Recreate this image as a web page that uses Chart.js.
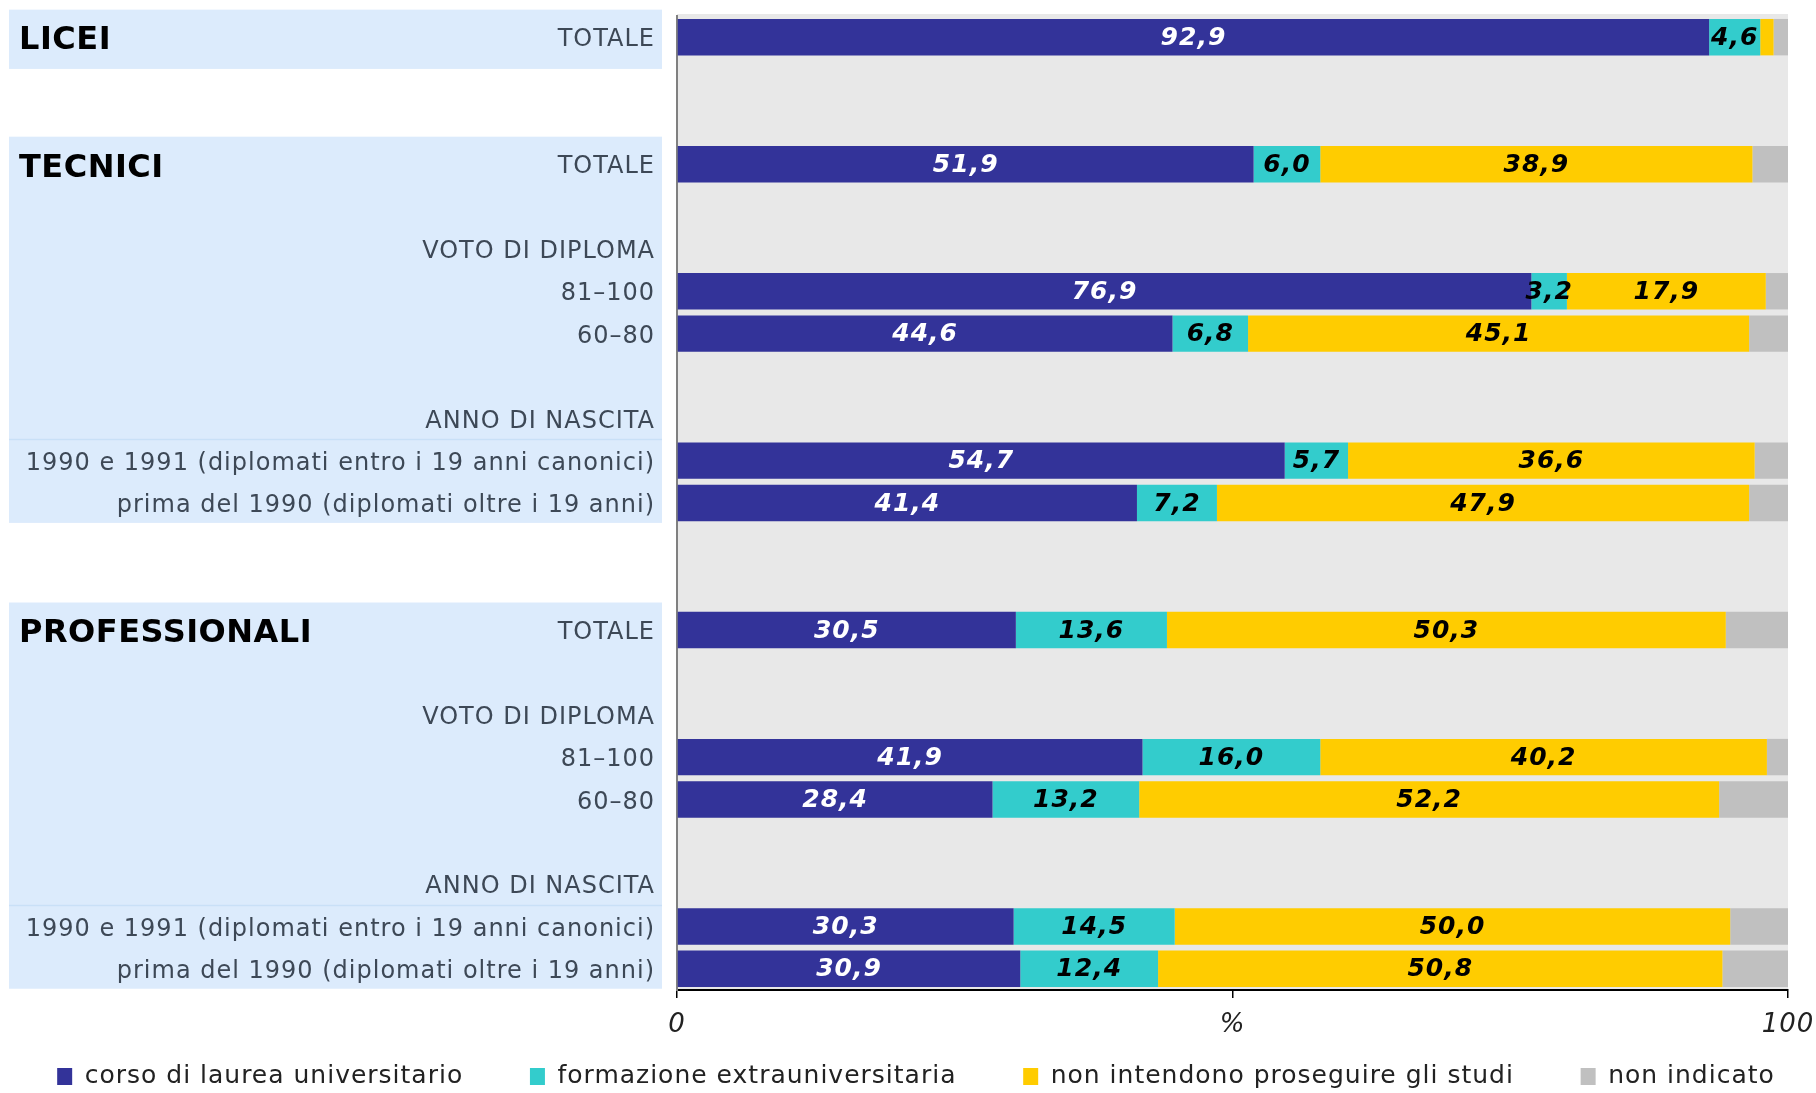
<!DOCTYPE html>
<html lang="it">
<head>
<meta charset="utf-8">
<title>Scelte dopo il diploma</title>
<script src="https://cdn.jsdelivr.net/npm/chart.js@4/dist/chart.umd.min.js"></script>
<style>
  html, body { margin: 0; padding: 0; background: #fff; }
  #wrap { width: 1816px; height: 1093px; }
</style>
</head>
<body>
<div id="wrap"><canvas id="chart" width="1816" height="1093"></canvas></div>
<script>
// righe del grafico (le righe vuote fanno da spazio tra i gruppi)
const rowLabels = [
  'TOTALE', '', '',
  'TOTALE', '', 'VOTO DI DIPLOMA', '81–100', '60–80', '',
  'ANNO DI NASCITA', '1990 e 1991 (diplomati entro i 19 anni canonici)', 'prima del 1990 (diplomati oltre i 19 anni)',
  '', '',
  'TOTALE', '', 'VOTO DI DIPLOMA', '81–100', '60–80', '',
  'ANNO DI NASCITA', '1990 e 1991 (diplomati entro i 19 anni canonici)', 'prima del 1990 (diplomati oltre i 19 anni)'
];

// gruppi: titolo, prima e ultima riga
const groupTitles = ['LICEI', 'TECNICI', 'PROFESSIONALI'];
const groupRows = [[0, 0], [3, 11], [14, 22]];
const subHeaderRows = [9, 20];

const seriesNames = [
  'corso di laurea universitario',
  'formazione extrauniversitaria',
  'non intendono proseguire gli studi',
  'non indicato'
];

const universitario = [92.9, null, null, 51.9, null, null, 76.9, 44.6, null, null, 54.7, 41.4, null, null, 30.5, null, null, 41.9, 28.4, null, null, 30.3, 30.9];
const extrauniv     = [4.6, null, null, 6.0, null, null, 3.2, 6.8, null, null, 5.7, 7.2, null, null, 13.6, null, null, 16.0, 13.2, null, null, 14.5, 12.4];
const nonProseguono = [1.2, null, null, 38.9, null, null, 17.9, 45.1, null, null, 36.6, 47.9, null, null, 50.3, null, null, 40.2, 52.2, null, null, 50.0, 50.8];
const nonIndicato   = [1.3, null, null, 3.2, null, null, 2.0, 3.5, null, null, 3.0, 3.5, null, null, 5.6, null, null, 1.9, 6.2, null, null, 5.2, 5.9];

const xTickLabels = ['0', '%', '100'];

const colors = ['#333399', '#33cccc', '#ffcc00', '#c0c0c0'];
const labelColors = ['#ffffff', '#000000', '#000000', null];

const FONT = '"DejaVu Sans", Verdana, sans-serif';
Chart.defaults.font.family = FONT;

function fmt(v) {
  return v.toFixed(1).replace('.', ',');
}

// niente margini automatici per le etichette degli assi
function noScalePadding(s) {
  s.paddingTop = 0;
  s.paddingBottom = 0;
  s.paddingLeft = 0;
  s.paddingRight = 0;
}

// sfondo area, riquadri azzurri e titoli dei gruppi
const panelPlugin = {
  id: 'panels',
  beforeUpdate(chart) { chart.ctx.letterSpacing = '1px'; },
  afterLayout(chart) {
    // la legenda nell'originale è un po' spostata a destra
    chart.legend.left += 22;
    chart.legend.right += 22;
  },
  beforeDraw(chart) {
    const { ctx, chartArea: a } = chart;
    const y = chart.scales.y;
    ctx.letterSpacing = '1px';
    ctx.save();
    ctx.fillStyle = '#e8e8e8';
    ctx.fillRect(a.left, a.top - 2, a.right - a.left, a.bottom - a.top + 2);

    groupRows.forEach(r => {
      const top = y.getPixelForValue(r[0] - 0.65);
      const bottom = y.getPixelForValue(Math.max(r[1] + 0.47, r[0] + 0.75));
      ctx.fillStyle = '#dcebfc';
      ctx.fillRect(9, top, 653, bottom - top);
    });

    ctx.strokeStyle = '#c9e0f7';
    ctx.lineWidth = 1.5;
    subHeaderRows.forEach(r => {
      const py = Math.round(y.getPixelForValue(r + 0.5)) + 0.5;
      ctx.beginPath();
      ctx.moveTo(9, py);
      ctx.lineTo(662, py);
      ctx.stroke();
    });

    ctx.fillStyle = '#000';
    ctx.font = 'bold 32px ' + FONT;
    ctx.letterSpacing = '0.5px';
    ctx.textAlign = 'left';
    ctx.textBaseline = 'middle';
    groupRows.forEach((r, i) => {
      ctx.fillText(groupTitles[i], 19, y.getPixelForValue(r[0]) + 4);
    });
    ctx.restore();
  }
};

// valori dentro le barre
const valuePlugin = {
  id: 'values',
  afterDatasetsDraw(chart) {
    const ctx = chart.ctx;
    ctx.save();
    ctx.font = 'italic bold 25px ' + FONT;
    ctx.textAlign = 'center';
    ctx.textBaseline = 'middle';
    chart.data.datasets.forEach((ds, di) => {
      if (!labelColors[di]) return;
      ctx.fillStyle = labelColors[di];
      chart.getDatasetMeta(di).data.forEach((el, i) => {
        const v = ds.data[i];
        if (v == null || v < 2) return;
        const p = el.getProps(['x', 'base', 'y'], true);
        ctx.fillText(fmt(v), (p.x + p.base) / 2, p.y + 1);
      });
    });
    ctx.restore();
  }
};

// legenda: spazio extra dopo ogni voce tranne l'ultima
const defaultLegendLabels = Chart.defaults.plugins.legend.labels.generateLabels;
function legendLabels(chart) {
  const items = defaultLegendLabels(chart);
  items.forEach((it, i) => {
    it.lineWidth = 0;
    if (i < items.length - 1) it.text = it.text + '     ';
  });
  return items;
}

const seriesData = [universitario, extrauniv, nonProseguono, nonIndicato];

new Chart(document.getElementById('chart'), {
  type: 'bar',
  data: {
    labels: rowLabels,
    datasets: seriesData.map((d, i) => ({
      label: seriesNames[i],
      data: d,
      backgroundColor: colors[i],
      borderWidth: 0,
      barPercentage: 0.86,
      categoryPercentage: 1
    }))
  },
  options: {
    responsive: false,
    animation: false,
    indexAxis: 'y',
    layout: { autoPadding: false, padding: { top: 16, right: 28, left: 0, bottom: -6 } },
    scales: {
      x: {
        stacked: true,
        min: 0,
        max: 100,
        ticks: {
          stepSize: 50,
          maxRotation: 0,
          padding: 12,
          color: '#222',
          font: { size: 26, style: 'italic' },
          callback: (v, i) => xTickLabels[i]
        },
        grid: { drawOnChartArea: false, drawTicks: true, tickLength: 8, color: '#000', lineWidth: 1.5 },
        border: { color: '#000', width: 2 },
        afterFit: s => { s.height = 52; noScalePadding(s); }
      },
      y: {
        stacked: true,
        ticks: { autoSkip: false, padding: 22, labelOffset: 3, color: '#3d4856', font: { size: 24 } },
        grid: { display: false, drawTicks: false },
        border: { color: '#808080', width: 2 },
        afterFit: s => { s.width = 677; noScalePadding(s); }
      }
    },
    plugins: {
      legend: {
        position: 'bottom',
        labels: {
          boxWidth: 15,
          boxHeight: 17,
          padding: 22,
          color: '#222',
          font: { size: 25 },
          generateLabels: legendLabels
        }
      },
      tooltip: { enabled: false }
    }
  },
  plugins: [panelPlugin, valuePlugin]
});
</script>
</body>
</html>
